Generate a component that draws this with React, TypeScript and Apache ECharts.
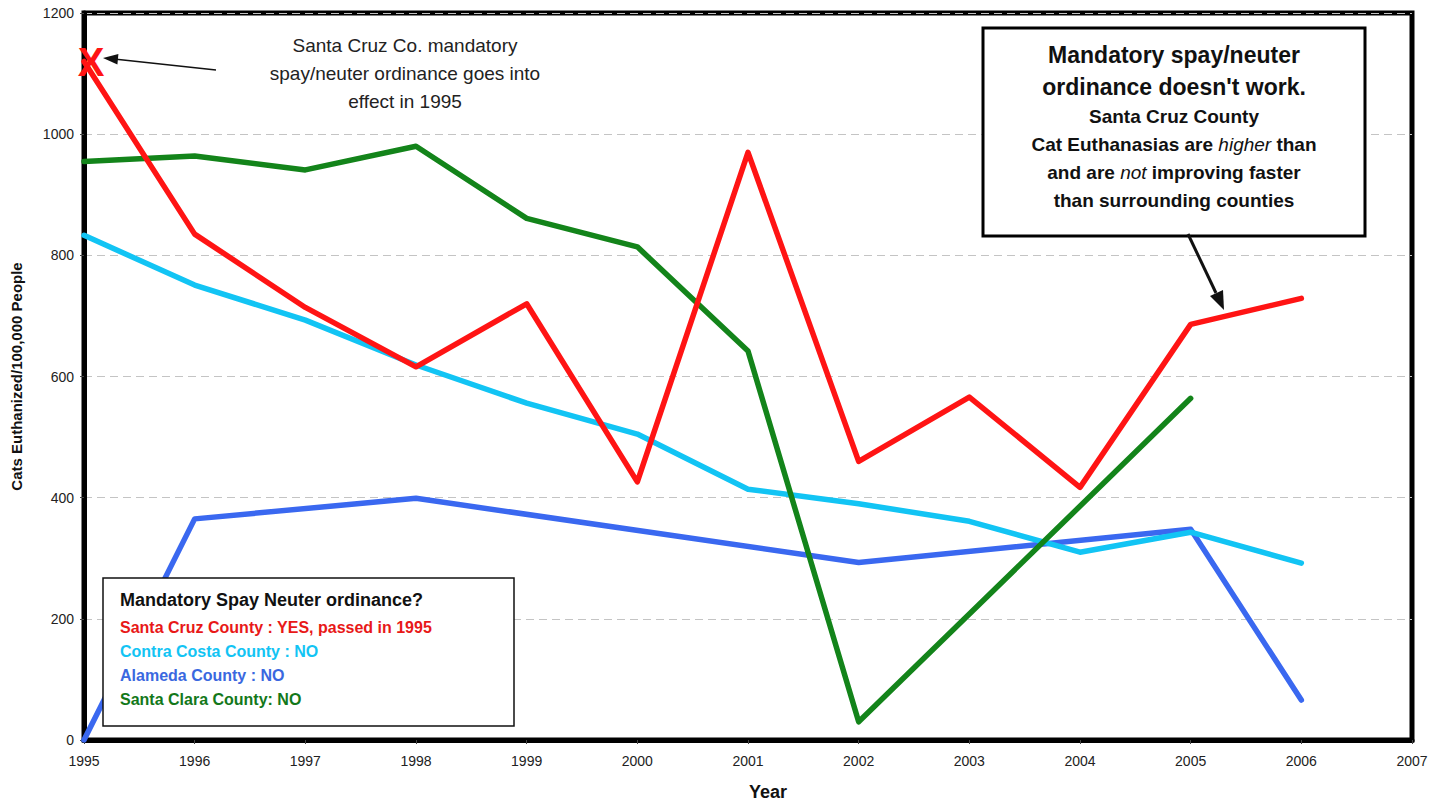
import React, { useEffect, useRef } from "react";
import * as echarts from "echarts";

const years = [1995, 1996, 1997, 1998, 1999, 2000, 2001, 2002, 2003, 2004, 2005, 2006];
const santaCruz = [1120, 835, 714, 616, 720, 426, 970, 460, 566, 417, 686, 729];
const contraCosta = [833, 751, 693, 619, 556, 505, 414, 390, 361, 310, 343, 292];
const alameda = [0, 365, null, 399, null, null, null, 293, null, null, 348, 66];
const santaClara = [955, 964, 941, 980, 861, 814, 642, 30, null, null, 564, null];
const yTicks = [0, 200, 400, 600, 800, 1000, 1200];

const FONT = "'Liberation Sans', Arial, Helvetica, sans-serif";

const pairs = (vals: (number | null)[]) => years.map((y, i) => [y, vals[i]]);

export default function App() {
  const ref = useRef<HTMLDivElement>(null);
  useEffect(() => {
    if (!ref.current) return;
    const chart = echarts.init(ref.current, null, { renderer: "svg" });
    const lineSeries = (name: string, vals: (number | null)[], color: string, extra: any = {}) => ({
      name,
      type: "line",
      data: pairs(vals),
      connectNulls: true,
      symbol: "none",
      lineStyle: { color, width: 5.5, cap: "round", join: "round" },
      itemStyle: { color },
      ...extra,
    });
    chart.setOption({
      animation: false,
      backgroundColor: "#ffffff",
      textStyle: { fontFamily: FONT },
      grid: {
        left: 84,
        right: 33,
        top: 13,
        bottom: 66,
        show: true,
        borderColor: "#000",
        borderWidth: 5,
        outerBoundsMode: "none",
        containLabel: false,
      },
      xAxis: {
        type: "value",
        min: 1995,
        max: 2007,
        interval: 1,
        name: "Year",
        nameLocation: "middle",
        nameGap: 43,
        nameTextStyle: { fontSize: 18, fontWeight: "bold", color: "#111", fontFamily: FONT, padding: [0, 0, 0, 40] },
        axisLine: { show: true, lineStyle: { color: "#000", width: 5 } },
        axisTick: { show: true, length: 4, lineStyle: { color: "#444", width: 1 } },
        axisLabel: { fontSize: 14, color: "#222", margin: 14, fontFamily: FONT, formatter: (v: number) => String(v) },
        splitLine: { show: false },
      },
      yAxis: {
        type: "value",
        min: yTicks[0],
        max: yTicks[yTicks.length - 1],
        interval: 200,
        name: "Cats Euthanized/100,000 People",
        nameLocation: "middle",
        nameGap: 60,
        nameRotate: 90,
        nameTextStyle: { fontSize: 15, fontWeight: "bold", color: "#111", fontFamily: FONT },
        axisLine: { show: true, lineStyle: { color: "#000", width: 5 } },
        axisTick: { show: true, length: 4, lineStyle: { color: "#444", width: 1 } },
        axisLabel: { fontSize: 14, color: "#222", margin: 10, fontFamily: FONT, formatter: (v: number) => String(v) },
        splitLine: { show: true, lineStyle: { color: "#c4c4c4", type: [8, 5], width: 1 } },
      },
      series: [
        lineSeries("Alameda County", alameda, "#3a68f0"),
        lineSeries("Contra Costa County", contraCosta, "#12c4f4"),
        lineSeries("Santa Clara County", santaClara, "#13841a"),
        lineSeries("Santa Cruz County", santaCruz, "#ff1414", {
          markPoint: {
            symbol: "circle",
            symbolSize: 1,
            itemStyle: { color: "rgba(0,0,0,0)" },
            label: {
              show: true,
              formatter: "X",
              color: "#ff1414",
              fontSize: 40,
              fontWeight: "bold",
              fontFamily: FONT,
              position: "inside",
              offset: [7, 1],
            },
            data: [{ coord: [years[0], santaCruz[0]] }],
          },
        }),
      ],
      graphic: [
        // top-left annotation
        {
          type: "text",
          z: 100,
          style: {
            text: "Santa Cruz Co. mandatory\nspay/neuter ordinance goes into\neffect in 1995",
            x: 405,
            y: 31,
            align: "center",
            verticalAlign: "top",
            font: `19px ${FONT}`,
            lineHeight: 28,
            fill: "#222",
          },
        },
        {
          type: "line",
          z: 100,
          shape: { x1: 216, y1: 70, x2: 114, y2: 59 },
          style: { stroke: "#111", lineWidth: 1.5 },
        },
        {
          type: "polygon",
          z: 100,
          shape: { points: [[103, 58], [118.4, 54], [117.4, 64.5]] },
          style: { fill: "#111" },
        },
        // big right box
        {
          type: "rect",
          z: 100,
          shape: { x: 983, y: 28, width: 382, height: 208 },
          style: { fill: "#fff", stroke: "#000", lineWidth: 3 },
        },
        {
          type: "text",
          z: 101,
          style: {
            text: "Mandatory spay/neuter\nordinance doesn't work.",
            x: 1174,
            y: 39,
            align: "center",
            verticalAlign: "top",
            font: `bold 23px ${FONT}`,
            lineHeight: 32,
            fill: "#111",
          },
        },
        {
          type: "text",
          z: 101,
          style: {
            text:
              "{b|Santa Cruz County}\n{b|Cat Euthanasias are }{i|higher}{b| than}\n{b|and are }{i|not}{b| improving faster}\n{b|than surrounding counties}",
            x: 1174,
            y: 102,
            align: "center",
            verticalAlign: "top",
            fill: "#111",
            rich: {
              b: { font: `bold 19px ${FONT}`, fill: "#111", lineHeight: 28 },
              i: { font: `italic 19px ${FONT}`, fill: "#111", lineHeight: 28 },
            },
          },
        },
        {
          type: "line",
          z: 100,
          shape: { x1: 1188, y1: 234, x2: 1216, y2: 293 },
          style: { stroke: "#111", lineWidth: 3 },
        },
        {
          type: "polygon",
          z: 100,
          shape: { points: [[1224, 310], [1223, 290], [1210, 296]] },
          style: { fill: "#111" },
        },
        // legend box
        {
          type: "rect",
          z: 100,
          shape: { x: 103, y: 578, width: 411, height: 148 },
          style: { fill: "#fff", stroke: "#111", lineWidth: 1.5 },
        },
        {
          type: "text",
          z: 101,
          style: {
            text: "Mandatory Spay Neuter ordinance?",
            x: 120,
            y: 591,
            align: "left",
            verticalAlign: "top",
            font: `bold 18px ${FONT}`,
            fill: "#111",
          },
        },
        {
          type: "text",
          z: 101,
          style: {
            text:
              "{r|Santa Cruz County : YES, passed in 1995}\n{c|Contra Costa County : NO}\n{a|Alameda County : NO}\n{g|Santa Clara County: NO}",
            x: 120,
            y: 615,
            align: "left",
            verticalAlign: "top",
            rich: {
              r: { font: `bold 16px ${FONT}`, fill: "#e81818", lineHeight: 24 },
              c: { font: `bold 16px ${FONT}`, fill: "#12c4f4", lineHeight: 24 },
              a: { font: `bold 16px ${FONT}`, fill: "#3a68e0", lineHeight: 24 },
              g: { font: `bold 16px ${FONT}`, fill: "#13781a", lineHeight: 24 },
            },
          },
        },
      ],
    });
    return () => chart.dispose();
  }, []);
  return (
    <div
      ref={ref}
      style={{ position: "fixed", left: 0, top: 0, width: 1445, height: 806, background: "#fff" }}
    />
  );
}
